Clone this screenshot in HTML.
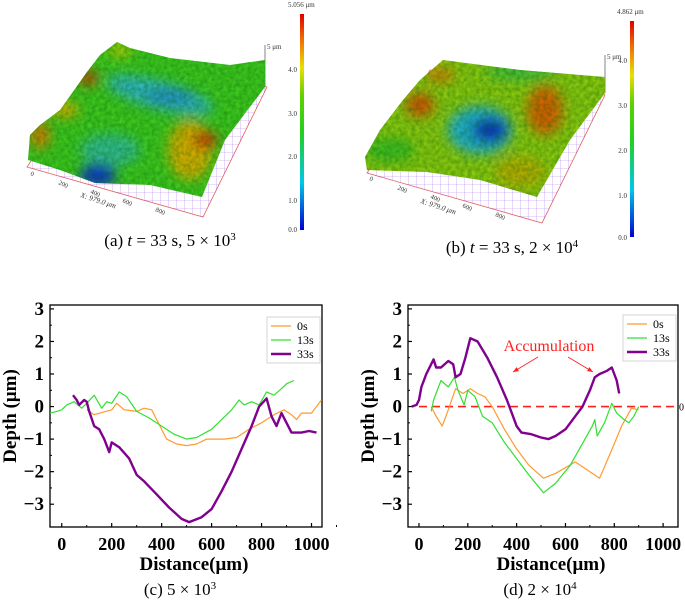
<!DOCTYPE html>
<html><head><meta charset="utf-8"><style>
body{margin:0;background:#fff;}
svg{display:block;font-family:"Liberation Serif",serif;}
</style></head><body>
<svg width="685" height="602" viewBox="0 0 685 602">
<defs>
<linearGradient id="cbar" x1="0" y1="1" x2="0" y2="0">
<stop offset="0" stop-color="#0000d0"/><stop offset="0.22" stop-color="#00c8e8"/><stop offset="0.45" stop-color="#20d020"/><stop offset="0.62" stop-color="#60d000"/><stop offset="0.75" stop-color="#e8e000"/><stop offset="0.88" stop-color="#f07000"/><stop offset="1" stop-color="#e00000"/>
</linearGradient>
<filter id="bl"><feGaussianBlur stdDeviation="6"/></filter>
<filter id="rough"><feTurbulence type="fractalNoise" baseFrequency="0.25" numOctaves="2" result="n"/><feColorMatrix in="n" type="matrix" values="0 0 0 0 0  0 0 0 0 0.1  0 0 0 0 0  0 0 0 0.6 -0.1"/></filter>
<pattern id="grid" width="8" height="8" patternUnits="userSpaceOnUse"><path d="M0 0H8M0 0V8" stroke="#b080f0" stroke-width="0.6" fill="none"/></pattern>
<clipPath id="ca"><polygon points="28,160 30,135 40,125 60,110 87,72 100,55 117,42 130,48 170,58 230,65 265,60 265,87 225,140 202,197 150,185 95,183 60,170"/></clipPath>
<clipPath id="cb"><polygon points="365,157 380,130 403,100 420,80 443,60 520,70 605,77 605,93 570,140 537,197 480,180 427,172 367,170"/></clipPath>
</defs>

<g>
<polygon points="27,167 203,217 267,87 100,60" fill="url(#grid)" stroke="#e06060" stroke-width="0.8"/>
<line x1="265" y1="87" x2="265" y2="45" stroke="#333" stroke-width="0.6"/>
<text x="267" y="49" font-size="7" fill="#333">5 μm</text>
<g clip-path="url(#ca)">
<rect x="20" y="30" width="260" height="200" fill="#40cc20"/>
<g filter="url(#bl)">
<ellipse cx="160" cy="95" rx="55" ry="14" fill="#30b8c8" transform="rotate(15 160 95)"/>
<ellipse cx="170" cy="97" rx="25" ry="8" fill="#2090d0"/>
<ellipse cx="98" cy="175" rx="18" ry="12" fill="#1030d0"/>
<ellipse cx="110" cy="150" rx="30" ry="16" fill="#30b8c8" opacity="0.7"/>
<ellipse cx="190" cy="150" rx="22" ry="30" fill="#e0b000"/>
<ellipse cx="205" cy="140" rx="12" ry="9" fill="#e02000"/>
<ellipse cx="88" cy="78" rx="10" ry="7" fill="#e03000"/>
<ellipse cx="40" cy="135" rx="10" ry="14" fill="#e08000"/>
<ellipse cx="65" cy="110" rx="14" ry="8" fill="#e0b000"/>
<ellipse cx="120" cy="50" rx="12" ry="7" fill="#c0d000"/>
</g>
<rect x="20" y="30" width="260" height="200" filter="url(#rough)"/>
</g>
<g font-size="6.5" fill="#333">
<text x="30" y="175" transform="rotate(25 30 175)">0</text>
<text x="58" y="184" transform="rotate(25 58 184)">200</text>
<text x="90" y="193" transform="rotate(25 90 193)">400</text>
<text x="122" y="202" transform="rotate(25 122 202)">600</text>
<text x="155" y="211" transform="rotate(25 155 211)">800</text>
<text x="80" y="197" transform="rotate(18 80 197)" font-size="7.5" font-style="italic">X: 979.0 μm</text>
</g>
</g>
<g>
<rect x="300" y="14" width="4" height="216" fill="url(#cbar)"/>
<text x="288" y="7" font-size="7" fill="#333">5.056 μm</text>
<g font-size="7" fill="#333" text-anchor="end">
<text x="297" y="72">4.0</text><text x="297" y="116">3.0</text><text x="297" y="159">2.0</text><text x="297" y="203">1.0</text><text x="297" y="232">0.0</text>
</g></g>
<text x="170" y="246" font-size="17" text-anchor="middle">(a) <tspan font-style="italic">t</tspan> = 33 s, 5 × 10<tspan dy="-6" font-size="11">3</tspan></text>

<g>
<polygon points="367,173 542,223 605,95 430,70" fill="url(#grid)" stroke="#e06060" stroke-width="0.8"/>
<line x1="605" y1="93" x2="605" y2="55" stroke="#333" stroke-width="0.6"/>
<text x="607" y="59" font-size="7" fill="#333">5 μm</text>
<g clip-path="url(#cb)">
<rect x="360" y="50" width="260" height="180" fill="#90cc10"/>
<g filter="url(#bl)">
<ellipse cx="480" cy="130" rx="32" ry="24" fill="#20b0d8"/>
<ellipse cx="490" cy="130" rx="18" ry="13" fill="#1030c8"/>
<ellipse cx="545" cy="110" rx="18" ry="25" fill="#e06000"/>
<ellipse cx="420" cy="105" rx="14" ry="12" fill="#e05000"/>
<ellipse cx="440" cy="75" rx="14" ry="8" fill="#e08000"/>
<ellipse cx="520" cy="72" rx="35" ry="8" fill="#40c040"/>
<ellipse cx="390" cy="150" rx="25" ry="12" fill="#40c020"/>
<ellipse cx="520" cy="172" rx="25" ry="15" fill="#c0b000"/>
</g>
<rect x="360" y="50" width="260" height="180" filter="url(#rough)"/>
</g>
<g font-size="6.5" fill="#333">
<text x="369" y="180" transform="rotate(25 369 180)">0</text>
<text x="397" y="189" transform="rotate(25 397 189)">200</text>
<text x="430" y="198" transform="rotate(25 430 198)">400</text>
<text x="462" y="207" transform="rotate(25 462 207)">600</text>
<text x="495" y="216" transform="rotate(25 495 216)">800</text>
<text x="420" y="203" transform="rotate(18 420 203)" font-size="7.5" font-style="italic">X: 979.0 μm</text>
</g>
</g>
<g>
<rect x="630" y="21" width="4" height="216" fill="url(#cbar)"/>
<text x="617" y="14" font-size="7" fill="#333">4.862 μm</text>
<g font-size="7" fill="#333" text-anchor="end">
<text x="627" y="63">4.0</text><text x="627" y="108">3.0</text><text x="627" y="153">2.0</text><text x="627" y="198">1.0</text><text x="627" y="240">0.0</text>
</g></g>
<text x="512" y="253" font-size="17" text-anchor="middle">(b) <tspan font-style="italic">t</tspan> = 33 s, 2 × 10<tspan dy="-6" font-size="11">4</tspan></text>

<g id="chartC"></g>
<g id="chartD"></g>
<text x="180" y="595" font-size="17" text-anchor="middle">(c) 5 × 10<tspan dy="-6" font-size="11">3</tspan></text>
<text x="540" y="595" font-size="17" text-anchor="middle">(d) 2 × 10<tspan dy="-6" font-size="11">4</tspan></text>
</svg>
<script>
const yTicks=[-3,-2,-1,0,1,2,3];
const xTicks=[0,200,400,600,800,1000];
const seriesNames=["0s","13s","33s"];
const c0x=[100,130,200,220,250,300,330,360,380,420,460,500,540,580,650,700,750,800,850,890,920,940,960,1000,1040];
const c0y=[-0.1,-0.25,-0.1,0.1,-0.1,-0.15,-0.05,-0.1,-0.4,-1.0,-1.15,-1.2,-1.15,-1.0,-1.0,-0.95,-0.7,-0.5,-0.25,-0.1,-0.25,-0.4,-0.2,-0.2,0.2];
const c1x=[-47,-20,0,20,50,80,100,130,160,180,200,230,260,300,350,400,450,500,540,600,640,680,710,730,760,790,820,850,880,900,930];
const c1y=[-0.2,-0.15,-0.1,0.05,0.15,-0.05,0.1,0.35,-0.05,0.15,0.1,0.45,0.3,-0.15,-0.35,-0.6,-0.85,-1.0,-0.95,-0.7,-0.4,-0.1,0.2,0.05,0.15,0.05,0.45,0.35,0.55,0.7,0.8];
const c2x=[45,60,70,90,100,110,130,150,170,190,200,230,270,300,330,380,430,480,510,560,600,640,680,720,760,790,820,840,860,880,900,920,960,990,1020];
const c2y=[0.35,0.2,0.05,0.2,0.15,-0.15,-0.6,-0.7,-1.0,-1.4,-1.1,-1.25,-1.6,-2.1,-2.3,-2.7,-3.1,-3.45,-3.55,-3.4,-3.15,-2.6,-2.0,-1.3,-0.6,0.0,0.25,-0.3,-0.6,-0.2,-0.5,-0.8,-0.8,-0.75,-0.8];
const d0x=[50,70,95,120,150,180,210,240,270,300,350,400,450,510,560,640,700,740,780,830,870,900];
const d0y=[0,-0.3,-0.6,-0.1,0.55,0.4,0.55,0.4,0.3,0.0,-0.7,-1.3,-1.8,-2.2,-2.05,-1.7,-2.0,-2.2,-1.5,-0.6,-0.05,-0.1];
const d1x=[50,60,90,120,145,160,185,200,230,260,300,350,400,450,510,560,620,680,710,720,730,760,790,810,840,860,880,900];
const d1y=[-0.15,0.2,0.8,0.6,0.9,0.5,0.05,0.5,0.3,-0.3,-0.5,-1.1,-1.6,-2.1,-2.65,-2.35,-1.8,-1.0,-0.6,-0.4,-0.9,-0.5,0.1,-0.2,-0.4,-0.5,-0.3,0.0];
const d2x=[-30,-10,0,10,30,50,60,70,90,120,140,150,170,190,210,240,280,320,360,380,400,420,460,500,530,560,600,640,670,700,720,740,770,790,810,820];
const d2y=[0,0.05,0.2,0.6,1.0,1.3,1.45,1.2,1.2,1.4,1.3,0.9,1.0,1.5,2.1,2.0,1.5,0.9,0.2,-0.2,-0.6,-0.8,-0.85,-0.95,-1.0,-0.9,-0.7,-0.3,0.0,0.5,0.9,1.0,1.1,1.2,0.8,0.4];
const colors=["#ff9a30","#30e030","#800090"];
const widths=[1.2,1.2,2.4];
const NS="http://www.w3.org/2000/svg";
function mk(tag,attrs,parent){const e=document.createElementNS(NS,tag);for(const k in attrs)e.setAttribute(k,attrs[k]);parent.appendChild(e);return e;}
function chart(g,L,R,T,B,xmin,xmax,series,legend){
  const ymin=-3.7,ymax=3.12;
  const sx=v=>L+(v-xmin)/(xmax-xmin)*(R-L);
  const sy=v=>B-(v-ymin)/(ymax-ymin)*(B-T);
  const fr=mk('rect',{x:L,y:T,width:R-L,height:B-T,fill:'none',stroke:'#000','stroke-width':1.3},g);
  
  
  yTicks.forEach(v=>{
    mk('line',{x1:L,x2:L+4,y1:sy(v),y2:sy(v),stroke:'#000','stroke-width':1.2},g);
    if(v<3) mk('line',{x1:L,x2:L+2,y1:sy(v+0.5),y2:sy(v+0.5),stroke:'#000','stroke-width':1},g);
    const t=mk('text',{x:L-6,y:sy(v)+6,'font-size':19,'font-weight':'bold','text-anchor':'end'},g);
    t.textContent=v<0?'\u2212'+(-v):v;
    
    
  });
  xTicks.forEach(v=>{
    mk('line',{x1:sx(v),x2:sx(v),y1:B,y2:B-4,stroke:'#000','stroke-width':1.2},g);
    mk('line',{x1:sx(v+100),x2:sx(v+100),y1:B,y2:B-2,stroke:'#000','stroke-width':1},g);
    const t=mk('text',{x:sx(v),y:B+23,'font-size':18,'font-weight':'bold','text-anchor':'middle'},g);
    t.textContent=v;
    
    
  });
  const xt=mk('text',{x:(L+R)/2+8,y:B+43,'font-size':19,'font-weight':'bold','text-anchor':'middle'},g);
  xt.textContent='Distance(\u03bcm)';
  
  
  const yx=L-34,yy=(T+B)/2;
  const yt=mk('text',{x:yx,y:yy,'font-size':19,'font-weight':'bold','text-anchor':'middle',transform:`rotate(-90 ${yx} ${yy})`},g);
  yt.textContent='Depth (\u03bcm)';
  
  
  series.forEach((s,i)=>{
    const d=s[0].map((x,j)=>(j?'L':'M')+sx(x).toFixed(1)+' '+sy(s[1][j]).toFixed(1)).join('');
    const p=mk('path',{d:d,fill:'none',stroke:colors[i],'stroke-width':widths[i],'stroke-linejoin':'round'},g);
    
    
  });
  const lg=mk('g',{},g);
  
  
  mk('rect',{x:legend[0],y:legend[1],width:R-legend[0]-2,height:46,fill:'#fff',stroke:'#ccc','stroke-width':0.8},lg);
  seriesNames.forEach((n,i)=>{
    const y=legend[1]+9+i*14;
    mk('line',{x1:legend[0]+4,x2:legend[0]+24,y1:y,y2:y,stroke:colors[i],'stroke-width':widths[i]},lg);
    const t=mk('text',{x:legend[0]+30,y:y+4,'font-size':12},lg);
    t.textContent=n;
    
    
  });
  return {sx,sy};
}
chart(document.getElementById('chartC'),50,322,305,527,-47,1042,[[c0x,c0y],[c1x,c1y],[c2x,c2y]],[267,317]);
const gD=document.getElementById('chartD');
const ax=chart(gD,408,678,305,527,-45,1061,[[d0x,d0y],[d1x,d1y],[d2x,d2y]],[623,315]);
const dl=document.createElementNS(NS,'line');
dl.setAttribute('x1',ax.sx(0));dl.setAttribute('x2',678);dl.setAttribute('y1',ax.sy(0));dl.setAttribute('y2',ax.sy(0));
dl.setAttribute('stroke','#ff2020');dl.setAttribute('stroke-width','1.6');dl.setAttribute('stroke-dasharray','8,5');


gD.insertBefore(dl,gD.children[1]);
const z=document.createElementNS(NS,'text');z.setAttribute('x',679);z.setAttribute('y',ax.sy(0)+4);z.setAttribute('font-size',10);z.textContent='0';


gD.appendChild(z);
const ac=document.createElementNS(NS,'text');ac.setAttribute('x',549);ac.setAttribute('y',351);ac.setAttribute('font-size',16);ac.setAttribute('fill','#ff2020');ac.setAttribute('text-anchor','middle');ac.textContent='Accumulation';


gD.appendChild(ac);
[[538,357,513,372],[568,357,593,372]].forEach(a=>{
  const l=document.createElementNS(NS,'line');l.setAttribute('x1',a[0]);l.setAttribute('y1',a[1]);l.setAttribute('x2',a[2]);l.setAttribute('y2',a[3]);l.setAttribute('stroke','#ff2020');l.setAttribute('stroke-width','0.9');
  
  
  gD.appendChild(l);
  const ang=Math.atan2(a[3]-a[1],a[2]-a[0]);const h=6;
  const p=document.createElementNS(NS,'polygon');
  const p1=[a[2]-h*Math.cos(ang-0.4),a[3]-h*Math.sin(ang-0.4)],p2=[a[2]-h*Math.cos(ang+0.4),a[3]-h*Math.sin(ang+0.4)];
  p.setAttribute('points',`${a[2]},${a[3]} ${p1} ${p2}`);p.setAttribute('fill','#ff2020');
  
  
  gD.appendChild(p);
});
</script>
</body></html>
